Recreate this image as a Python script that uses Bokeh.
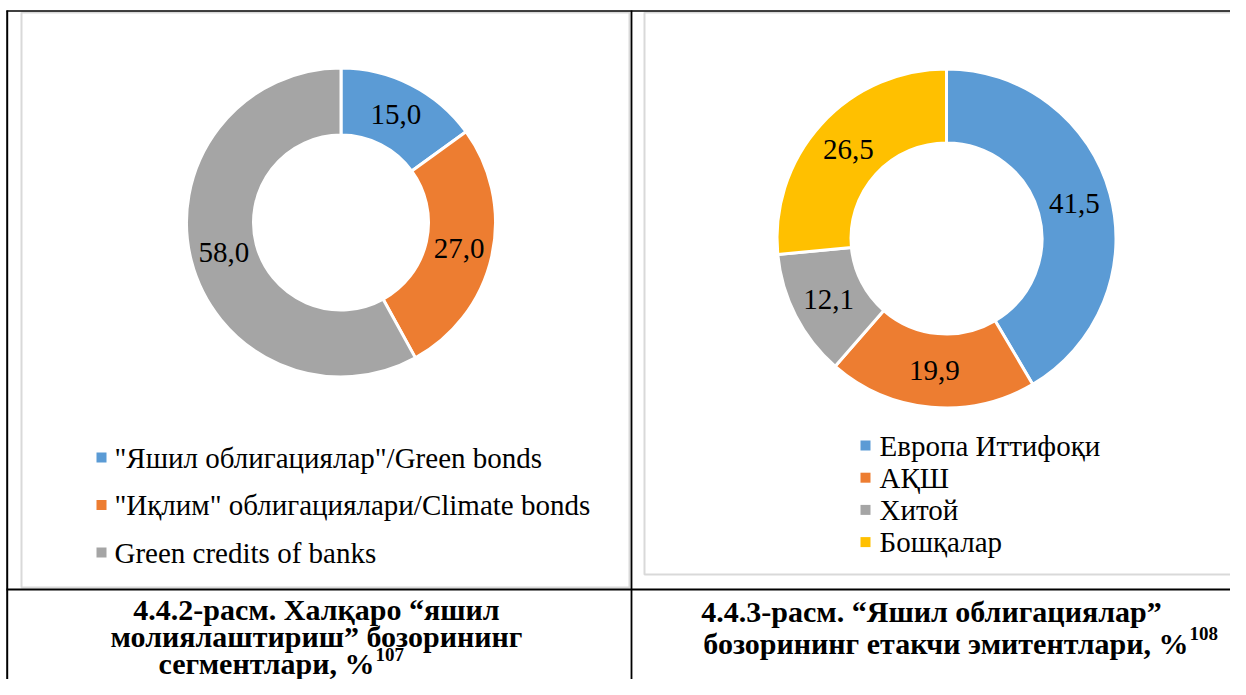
import math
from bokeh.plotting import figure
from bokeh.models import Range1d, ColumnDataSource
from bokeh.core.properties import value
from bokeh.embed import file_html
from bokeh.resources import INLINE

# ---------------- data ----------------
seg_labels = ['"Яшил облигациялар"/Green bonds',
              '"Иқлим" облигациялари/Climate bonds',
              'Green credits of banks']
seg_values = [15.0, 27.0, 58.0]
seg_colors = ["#5B9BD5", "#ED7D31", "#A5A5A5"]

iss_labels = ["Европа Иттифоқи", "АҚШ", "Хитой", "Бошқалар"]
iss_values = [41.5, 19.9, 12.1, 26.5]
iss_colors = ["#5B9BD5", "#ED7D31", "#A5A5A5", "#FFC000"]

caption_left = ["4.4.2-расм. Халқаро “яшил", "молиялаштириш” бозорининг", "сегментлари, %"]
caption_left_note = "107"
caption_right = ["4.4.3-расм. “Яшил облигациялар”", "бозорининг етакчи эмитентлари, %"]
caption_right_note = "108"

# ---------------- figure ----------------
W, H = 1230, 679
p = figure(width=W, height=H, x_range=Range1d(0, W), y_range=Range1d(-H, 0),
           output_backend="svg", toolbar_location=None, min_border=0,
           x_axis_location=None, y_axis_location=None)
p.grid.visible = False
p.outline_line_color = None
p.background_fill_color = "white"
p.border_fill_color = "white"

FONT = value("Liberation Serif")


def Y(py):
    return -py


# frames (chart areas)
p.quad(left=[21], right=[629], top=[Y(12)], bottom=[Y(587)], fill_color=None,
       line_color="#D9D9D9", line_width=2)
p.quad(left=[644], right=[1260], top=[Y(12)], bottom=[Y(574)], fill_color=None,
       line_color="#D9D9D9", line_width=2)

# table borders
p.segment(x0=[6, 6.7, 631, 6], y0=[Y(10.5), Y(10), Y(10), Y(589)],
          x1=[1240, 6.7, 631, 1240], y1=[Y(10.5), Y(700), Y(700), Y(589)],
          line_color="black", line_width=[1.5, 2, 1.8, 2.2])


def donut(cx, cy, r_in, r_out, values, colors):
    total = float(sum(values))
    cum = 0.0
    starts, ends, lx, ly, txt = [], [], [], [], []
    rm = (r_in + r_out) / 2.0
    for v in values:
        a0 = math.pi / 2 - 2 * math.pi * cum / total
        cum += v
        a1 = math.pi / 2 - 2 * math.pi * cum / total
        starts.append(a1)
        ends.append(a0)
        mid = (a0 + a1) / 2.0
        lx.append(cx + rm * math.cos(mid))
        ly.append(Y(cy) + rm * math.sin(mid))
        txt.append(f"{v:.1f}".replace(".", ","))
    src = ColumnDataSource(dict(start=starts, end=ends, color=list(colors)))
    p.annular_wedge(x=cx, y=Y(cy), inner_radius=r_in - 1.5, outer_radius=r_out + 1.5,
                    start_angle="start", end_angle="end", direction="anticlock",
                    fill_color="color", line_color="white", line_width=3, source=src)
    p.text(x=lx, y=ly, text=txt, text_font=FONT, text_font_size="29px",
           text_color="black", text_align="center", text_baseline="middle")


donut(340.5, 222, 89, 153, seg_values, seg_colors)
donut(946, 238, 97, 168, iss_values, iss_colors)


def legend(x_marker, x_text, y0, step, labels, colors):
    ys = [Y(y0 + i * step) for i in range(len(labels))]
    p.scatter(x=[x_marker] * len(labels), y=ys, marker="square", size=10,
              fill_color=list(colors), line_color=None)
    p.text(x=[x_text] * len(labels), y=ys, text=list(labels), text_font=FONT,
           text_font_size="29px", text_color="black", text_align="left",
           text_baseline="middle")


legend(101, 114, 457, 47.5, seg_labels, seg_colors)
legend(865, 879, 445, 32.2, iss_labels, iss_colors)

# captions
CAP = "30px"
p.text(x=[316, 316], y=[Y(609), Y(636)], text=caption_left[:2], text_font=FONT,
       text_font_size=CAP, text_font_style="bold", text_align="center", text_baseline="middle")
p.text(x=[374], y=[Y(663)], text=caption_left[2:], text_font=FONT,
       text_font_size=CAP, text_font_style="bold", text_align="right", text_baseline="middle")
p.text(x=[375], y=[Y(654)], text=[caption_left_note], text_font=FONT,
       text_font_size="19px", text_font_style="bold", text_align="left", text_baseline="middle")

p.text(x=[931], y=[Y(611)], text=caption_right[:1], text_font=FONT,
       text_font_size=CAP, text_font_style="bold", text_align="center", text_baseline="middle")
p.text(x=[1188], y=[Y(643)], text=caption_right[1:], text_font=FONT,
       text_font_size=CAP, text_font_style="bold", text_align="right", text_baseline="middle")
p.text(x=[1189], y=[Y(633)], text=[caption_right_note], text_font=FONT,
       text_font_size="19px", text_font_style="bold", text_align="left", text_baseline="middle")

open("out.html", "w").write(file_html(p, INLINE))
